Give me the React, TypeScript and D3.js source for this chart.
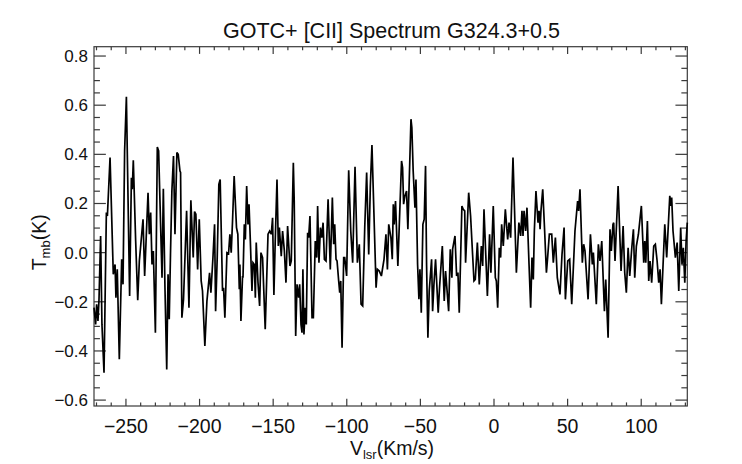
import React, { useEffect } from "react";
import * as d3 from "d3";

// channel velocities (km/s) and antenna temperature (K)
const velocity: number[] = [
  -271.7, -270.6, -269.9, -269.0, -268.3, -267.2, -266.3, -264.9, -263.3, -262.6,
  -260.8, -258.6, -257.4, -256.8, -255.9, -254.5, -252.9, -252.0, -250.9, -249.7,
  -247.5, -246.3, -245.7, -245.0, -243.4, -242.0, -240.9, -238.4, -237.3, -235.0,
  -234.1, -233.2, -232.3, -231.4, -230.0, -228.7, -227.8, -225.5, -224.6, -223.5,
  -222.3, -221.4, -220.6, -219.7, -218.8, -217.7, -216.7, -215.4, -214.5, -213.3,
  -212.9, -212.0, -210.9, -208.8, -207.2, -205.9, -204.3, -203.4, -202.5, -201.3,
  -200.2, -198.9, -198.0, -196.4, -195.0, -193.2, -192.3, -190.9, -189.8, -189.1,
  -188.0, -186.9, -186.0, -184.4, -183.7, -182.8, -181.4, -180.3, -179.4, -178.5,
  -177.6, -176.5, -174.9, -174.0, -173.0, -172.6, -171.9, -170.8, -170.5, -169.6,
  -168.9, -168.0, -167.1, -166.4, -165.5, -164.4, -163.7, -162.8, -162.1, -161.5,
  -160.3, -159.2, -158.3, -157.2, -155.4, -153.5, -152.4, -151.3, -150.4, -149.5,
  -148.6, -147.4, -146.5, -145.8, -144.5, -143.6, -142.4, -141.3, -140.2, -138.6,
  -137.7, -136.3, -135.7, -134.7, -133.8, -132.7, -132.0, -131.1, -130.4, -129.8,
  -129.1, -128.2, -127.5, -126.6, -125.9, -125.0, -123.6, -122.7, -121.4, -120.4,
  -119.8, -118.9, -117.9, -117.0, -116.1, -115.2, -114.1, -112.7, -111.2, -109.8,
  -108.9, -108.2, -107.3, -106.6, -105.5, -104.8, -104.1, -103.2, -102.1, -101.4,
  -100.1, -98.7, -97.3, -96.0, -94.4, -92.8, -91.5, -90.3, -89.2, -87.8,
  -86.5, -85.1, -84.0, -82.9, -80.1, -79.2, -77.9, -76.5, -74.7, -73.4,
  -72.4, -71.5, -70.0, -69.1, -68.4, -67.8, -66.9, -65.3, -62.8, -62.1,
  -61.4, -60.5, -59.4, -58.5, -56.4, -55.8, -54.9, -53.7, -53.0, -51.9,
  -51.0, -50.3, -49.4, -48.3, -47.4, -46.5, -45.8, -44.9, -44.0, -42.4,
  -41.7, -40.8, -39.7, -37.9, -37.0, -35.1, -33.8, -32.9, -30.8, -29.7,
  -28.6, -28.1, -26.5, -25.4, -24.5, -23.6, -21.8, -20.9, -19.9, -19.3,
  -17.2, -15.9, -13.6, -12.7, -11.3, -10.0, -8.6, -7.7, -6.8, -4.5,
  -3.0, -2.1, -0.5, 0.9, 1.6, 2.5, 3.6, 4.5, 5.2, 6.3,
  7.7, 9.3, 10.2, 11.3, 12.9, 15.2, 16.9, 18.1, 19.0, 19.7,
  20.4, 21.5, 22.4, 23.8, 24.9, 25.8, 26.7, 27.4, 28.5, 29.9,
  30.6, 31.3, 31.9, 33.1, 34.4, 35.6, 36.5, 37.6, 39.2, 40.3,
  41.7, 43.0, 44.8, 46.2, 47.6, 48.5, 50.1, 51.4, 52.8, 55.0,
  56.8, 57.5, 58.4, 60.0, 60.9, 61.8, 63.9, 65.5, 66.8, 67.5,
  69.5, 70.9, 72.0, 73.2, 75.0, 75.9, 77.5, 78.8, 79.7, 80.8,
  81.3, 82.2, 84.3, 86.3, 87.7, 88.8, 89.9, 91.1, 92.2, 93.6,
  94.7, 95.6, 96.7, 98.1, 100.1, 101.7, 102.4, 103.1, 104.2, 105.1,
  106.0, 107.1, 108.5, 109.6, 110.8, 111.9, 112.8, 113.7, 116.0, 117.3,
  119.4, 120.1, 120.7, 121.6, 123.2, 124.4, 125.5, 126.8, 127.7, 128.6,
  129.6, 130.5, 131.3,
];

const tmb: number[] = [
  -0.224, -0.292, -0.210, -0.278, -0.190, 0.068, -0.292, -0.489, 0.163, 0.149,
  0.387, -0.088, -0.048, -0.183, -0.068, -0.434, -0.027, -0.129, 0.414, 0.634,
  -0.176, 0.305, 0.258, 0.376, 0.047, -0.194, -0.034, 0.136, -0.095, 0.244,
  0.075, 0.163, -0.048, 0.007, -0.326, 0.430, 0.414, -0.102, 0.260, -0.143,
  -0.475, -0.088, -0.271, 0.007, 0.251, 0.393, 0.075, 0.407, 0.400, 0.332,
  0.326, -0.265, -0.190, 0.170, -0.224, 0.213, -0.020, 0.167, 0.156, -0.068,
  0.136, -0.115, -0.156, -0.380, -0.197, -0.082, -0.163, -0.020, 0.115, -0.238,
  -0.020, 0.278, 0.298, -0.156, -0.143, -0.265, 0.000, -0.004, 0.075, 0.000,
  0.129, 0.312, 0.102, 0.075, -0.149, -0.048, -0.278, -0.095, -0.102, 0.115,
  0.054, 0.271, 0.115, 0.197, 0.047, -0.156, -0.041, -0.048, -0.183, 0.041,
  -0.122, -0.217, 0.000, -0.020, -0.312, 0.075, 0.088, 0.075, 0.142, -0.172,
  0.047, 0.298, 0.027, 0.102, -0.014, 0.088, 0.007, -0.122, 0.108, -0.054,
  -0.034, 0.366, 0.210, -0.339, -0.129, -0.183, -0.129, -0.292, -0.326, -0.068,
  -0.333, -0.224, -0.292, 0.081, 0.061, 0.149, -0.265, -0.265, 0.047, -0.020,
  0.190, -0.041, 0.102, 0.061, 0.122, -0.027, -0.034, 0.217, -0.068, 0.224,
  0.034, 0.115, -0.027, -0.034, -0.115, -0.163, -0.115, -0.387, -0.020, -0.020,
  -0.095, 0.335, 0.088, -0.041, 0.349, -0.041, 0.034, -0.210, -0.217, 0.102,
  0.326, -0.007, 0.271, 0.438, -0.143, -0.068, -0.075, -0.095, -0.027, 0.075,
  -0.068, 0.115, 0.061, -0.027, 0.197, 0.115, 0.210, -0.054, 0.373, 0.346,
  0.197, 0.231, 0.251, 0.095, 0.543, 0.509, 0.332, 0.183, 0.298, -0.048,
  -0.190, -0.068, -0.244, 0.115, 0.136, 0.353, -0.048, -0.346, -0.156, -0.027,
  -0.238, -0.129, -0.027, -0.244, -0.143, 0.027, -0.197, -0.075, -0.238, 0.014,
  -0.102, 0.014, 0.068, -0.095, -0.081, -0.244, 0.190, 0.176, 0.170, -0.041,
  0.244, 0.149, -0.115, -0.109, 0.041, -0.129, 0.027, -0.054, 0.176, -0.176,
  0.075, -0.082, 0.190, -0.102, -0.115, -0.224, 0.020, -0.020, 0.115, 0.027,
  0.176, 0.054, 0.122, 0.061, 0.387, -0.082, 0.122, 0.068, 0.170, 0.068,
  0.170, 0.088, 0.183, -0.048, -0.224, -0.020, -0.109, 0.088, 0.251, 0.122,
  0.170, 0.095, 0.170, 0.258, 0.088, -0.082, -0.014, 0.075, 0.075, -0.041,
  0.061, -0.102, -0.170, -0.007, 0.102, -0.190, -0.034, -0.027, -0.210, 0.088,
  0.210, 0.170, 0.258, -0.041, 0.034, 0.007, -0.190, 0.075, -0.048, 0.000,
  -0.210, 0.034, -0.034, 0.047, -0.238, -0.109, -0.346, 0.095, 0.007, 0.115,
  0.122, -0.034, 0.271, -0.075, 0.108, -0.082, -0.163, 0.020, -0.095, 0.020,
  0.095, -0.102, 0.027, 0.075, 0.190, -0.041, 0.047, -0.041, 0.129, -0.115,
  -0.034, -0.122, 0.027, 0.034, -0.034, -0.122, -0.068, -0.210, 0.115, -0.020,
  0.231, 0.190, 0.224, 0.088, -0.020, 0.041, -0.156, 0.102, -0.048, 0.020,
  -0.122, 0.047, 0.122,
];

const xTicks: number[] = [-250, -200, -150, -100, -50, 0, 50, 100];
const yTicks: number[] = [-0.6, -0.4, -0.2, 0.0, 0.2, 0.4, 0.6, 0.8];

const title = "GOTC+ [CII] Spectrum G324.3+0.5";

const width = 742;
const height = 464;
const left = 94;
const right = 687.3;
const top = 46.7;
const bottom = 406;

const font = "'Liberation Sans', Arial, Helvetica, sans-serif";
const axisColor = "#3a3a3a";

const App = () => {
  useEffect(() => {
    document.body.style.margin = "0";
  }, []);

  const x = d3.scaleLinear().domain([-271.7, 131.3]).range([left, right]);
  const y = d3.scaleLinear().domain([-0.624, 0.838]).range([bottom, top]);

  const line = d3
    .line<number>()
    .x((d, i) => x(velocity[i]))
    .y((d) => y(d));

  // IDL style tick lengths: fraction of the opposite plot dimension
  const xMajor = 0.02 * (bottom - top);
  const yMajor = 0.02 * (right - left);

  const xMinor = d3.range(-270, 131, 10).filter((v) => v % 50 !== 0);
  const yMinor = d3
    .range(-0.6, 0.81, 0.05)
    .map((v) => Math.round(v * 100) / 100)
    .filter((v) => Math.round(v * 100) % 20 !== 0);

  const fmtY = (v: number) => {
    const s = d3.format(".1f")(Math.abs(v) < 1e-9 ? 0 : v);
    return s.replace("-", "\u2212");
  };
  const fmtX = (v: number) => String(v).replace("-", "\u2212");

  const ticksH = (yy: number, dir: number) => (
    <>
      {xTicks.map((t) => (
        <line key={"M" + t} x1={x(t)} x2={x(t)} y1={yy} y2={yy + dir * xMajor} />
      ))}
      {xMinor.map((t) => (
        <line key={"m" + t} x1={x(t)} x2={x(t)} y1={yy} y2={yy + (dir * xMajor) / 2} />
      ))}
    </>
  );

  const ticksV = (xx: number, dir: number) => (
    <>
      {yTicks.map((t) => (
        <line key={"M" + t} x1={xx} x2={xx + dir * yMajor} y1={y(t)} y2={y(t)} />
      ))}
      {yMinor.map((t) => (
        <line key={"m" + t} x1={xx} x2={xx + (dir * yMajor) / 2} y1={y(t)} y2={y(t)} />
      ))}
    </>
  );

  return (
    <svg width={width} height={height} style={{ display: "block", background: "#fff" }}>
      <g stroke={axisColor} strokeWidth={1.2} fill="none">
        <rect x={left} y={top} width={right - left} height={bottom - top} />
        {ticksH(bottom, -1)}
        {ticksH(top, 1)}
        {ticksV(left, 1)}
        {ticksV(right, -1)}
      </g>

      <path
        d={line(tmb) || ""}
        fill="none"
        stroke="#000"
        strokeWidth={1.7}
        strokeLinejoin="miter"
        strokeMiterlimit={3}
      />

      <g fontFamily={font} fill="#111">
        {xTicks.map((t) => (
          <text key={t} x={x(t)} y={433} fontSize={19.5} textAnchor="middle">
            {fmtX(t)}
          </text>
        ))}
        {yTicks.map((t) => (
          <text key={t} x={left - 6} y={y(t) + 6} fontSize={17} textAnchor="end">
            {fmtY(t)}
          </text>
        ))}
        <text x={391.5} y={38} fontSize={21.5} textAnchor="middle">
          {title}
        </text>
        <text x={392} y={455} fontSize={19.5} textAnchor="middle">
          V
          <tspan fontSize={13} dy={4}>
            lsr
          </tspan>
          <tspan dy={-4}>(Km/s)</tspan>
        </text>
        <text
          transform={`translate(46,${(top + bottom) / 2 + 16}) rotate(-90)`}
          fontSize={19.5}
          textAnchor="middle"
        >
          T
          <tspan fontSize={13} dy={4}>
            mb
          </tspan>
          <tspan dy={-4}>(K)</tspan>
        </text>
      </g>
    </svg>
  );
};

export default App;
